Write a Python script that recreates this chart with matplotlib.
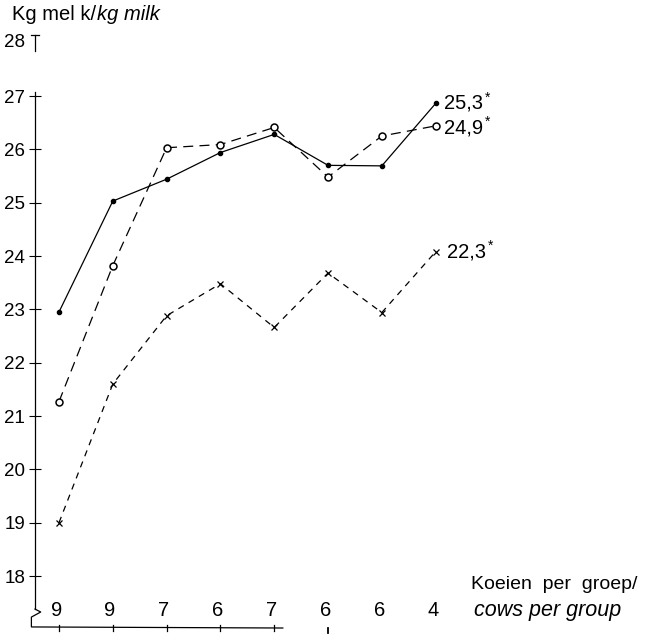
import matplotlib
matplotlib.use('Agg')
import matplotlib.pyplot as plt
import numpy as np

plt.rcParams['font.family'] = ['Liberation Sans', 'DejaVu Sans']

# koeien per groep / cows per group
groups = [9, 9, 7, 6, 7, 6, 6, 4]
# kg melk per kg milk, drie reeksen
solid_vals = [22.95, 25.03, 25.44, 25.94, 26.28, 25.70, 25.69, 26.86]
circle_vals = [21.27, 23.82, 26.03, 26.09, 26.41, 25.48, 26.25, 26.44]
cross_vals = [19.0, 21.6, 22.88, 23.48, 22.66, 23.68, 22.94, 24.08]
end_labels = ['25,3', '24,9', '22,3']
y_ticks = [18, 19, 20, 21, 22, 23, 24, 25, 26, 27]

W, H = 646, 635
fig = plt.figure(figsize=(W / 100, H / 100), dpi=100)
ax = fig.add_axes([35 / W, 0, 1 - 35 / W, 1])
ax.set_xlim(-0.446, 10.91)
ax.set_ylim(16.894, 28.8)

x = np.arange(len(groups))
lw = 0.9

ax.plot(x, solid_vals, color='black', lw=lw, marker='o', ms=3, clip_on=False)
ax.plot(x, circle_vals, color='black', lw=lw, dashes=(8, 5), marker='o', ms=5,
        mfc='white', mec='black', mew=1.1, clip_on=False)
ax.plot(x, cross_vals, color='black', lw=lw, dashes=(5, 4.5), marker='x', ms=5,
        mew=0.9, clip_on=False)

# eindwaarden rechts
for vals, lab, dx, dy in zip([solid_vals, circle_vals, cross_vals], end_labels,
                             [6, 6, 8], [0, -1.5, 0]):
    t = ax.annotate(lab, xy=(x[-1], vals[-1]), xytext=(dx, dy), textcoords='offset points',
                    ha='left', va='center', fontsize=14.5)
    ax.annotate('*', xy=(1, 0.8), xycoords=t, xytext=(1.5, 0), textcoords='offset points',
                ha='left', va='center', fontsize=10)

# y-as
for s in ['top', 'right', 'bottom']:
    ax.spines[s].set_visible(False)
ax.spines['left'].set_bounds(17.38, 27.08)
ax.spines['left'].set_linewidth(0.9)
ax.set_yticks(y_ticks)
ax.set_yticklabels([str(v) for v in y_ticks])
ax.tick_params(axis='y', direction='inout', length=8, width=0.8, labelsize=13.5, pad=3)
ax.set_xticks([])

# 28 met apart streepje
yt = ax.get_yaxis_transform()
ax.plot([0, 0], [27.85, 28.15], color='black', lw=0.9, transform=yt, clip_on=False)
ax.plot([-0.006, 0.006], [28.15, 28.15], color='black', lw=0.9, transform=yt, clip_on=False)
ax.text(-0.016, 28.0, '28', transform=yt, ha='right', va='center', fontsize=13.5)

# asbreuk en onderste as
ax.plot([-0.446, -0.34, -0.513, -0.513, 4.16], [17.38, 17.325, 17.23, 17.045, 17.025],
        color='black', lw=0.9, clip_on=False)
for xi in x[:5]:
    ax.plot([xi, xi], [16.96, 17.09], color='black', lw=0.9, clip_on=False)
ax.plot([x[5], x[5]], [16.93, 17.03], color='black', lw=1.3, clip_on=False)

# groepsgrootte boven de as
for xi, g in zip(x, groups):
    ax.text(xi - 0.05, 17.36, str(g), ha='center', va='center', fontsize=14.5)

ax.text(7.66, 17.84, 'Koeien  per  groep/', ha='left', va='center', fontsize=14)
ax.text(7.72, 17.36, 'cows per group', ha='left', va='center', fontsize=15.5, style='italic')

# titel y-as
t1 = fig.text(12 / W, 1 - 15 / H, 'Kg mel k/', ha='left', va='center', fontsize=14.5)
ax.annotate('kg milk', xy=(1, 0.5), xycoords=t1, xytext=(0.5, 0), textcoords='offset points',
            ha='left', va='center', fontsize=14.5, style='italic')

fig.savefig('out.png', dpi=100)
